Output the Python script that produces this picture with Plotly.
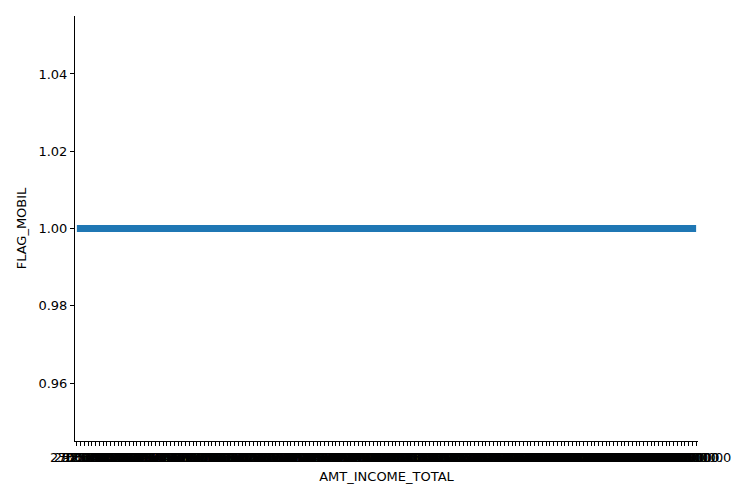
import plotly.graph_objects as go

income_values = [
    27000.0, 29250.0, 30600.0, 31500.0, 33300.0, 33750.0, 36000.0, 36900.0, 37800.0, 38250.0,
    39600.0, 40500.0, 41400.0, 42300.0, 42750.0, 43650.0, 44100.0, 45000.0, 46350.0, 47250.0,
    48150.0, 48600.0, 49500.0, 50400.0, 51750.0, 52200.0, 53100.0, 54000.0, 54900.0, 55350.0,
    56250.0, 57150.0, 57600.0, 58500.0, 59400.0, 60750.0, 61200.0, 62100.0, 63000.0, 63900.0,
    64350.0, 65250.0, 66150.0, 66600.0, 67500.0, 68400.0, 69300.0, 69750.0, 70200.0, 71100.0,
    72000.0, 72900.0, 73350.0, 74250.0, 75150.0, 75600.0, 76500.0, 77400.0, 78300.0, 78750.0,
    79200.0, 80100.0, 81000.0, 81900.0, 82350.0, 83250.0, 84150.0, 84600.0, 85500.0, 86400.0,
    87300.0, 87750.0, 88200.0, 89100.0, 90000.0, 91800.0, 92250.0, 93150.0, 94500.0, 95400.0,
    96750.0, 97650.0, 99000.0, 99900.0, 100800.0, 101250.0, 102600.0, 103500.0, 105750.0, 106650.0,
    108000.0, 109350.0, 110250.0, 111150.0, 112050.0, 112500.0, 113400.0, 114750.0, 115200.0, 116100.0,
    117000.0, 117450.0, 118350.0, 119250.0, 120600.0, 121500.0, 122400.0, 123750.0, 124200.0, 126000.0,
    126900.0, 128250.0, 130500.0, 131400.0, 133650.0, 135000.0, 136800.0, 137250.0, 139500.0, 140400.0,
    141750.0, 144000.0, 146250.0, 148500.0, 151200.0, 153000.0, 157500.0, 162000.0, 166500.0, 171000.0,
    175500.0, 180000.0, 184500.0, 189000.0, 193500.0, 198000.0, 202500.0, 207000.0, 211500.0, 216000.0,
    225000.0, 234000.0, 243000.0, 247500.0, 256500.0, 261000.0, 270000.0, 279000.0, 288000.0, 292500.0,
    297000.0, 315000.0, 337500.0, 360000.0, 382500.0, 405000.0, 450000.0, 495000.0, 540000.0, 585000.0,
    630000.0, 675000.0, 720000.0, 810000.0, 900000.0, 1575000.0,
]
flag_mobil = [1] * len(income_values)
categories = [str(v) for v in income_values]
y_ticks = [0.96, 0.98, 1.00, 1.02, 1.04]

fig = go.Figure()
fig.add_trace(go.Scatter(
    x=categories, y=flag_mobil, mode="lines",
    line=dict(color="#1f77b4", width=7), showlegend=False,
))

font = dict(family="DejaVu Sans", size=13, color="black")
fig.update_layout(
    width=750, height=500,
    margin=dict(l=67, r=60, t=8, b=67),
    paper_bgcolor="white", plot_bgcolor="white",
    font=font,
    xaxis=dict(
        type="category", automargin=False,
        tickmode="array", tickvals=categories, ticktext=categories,
        tickangle=0,
        range=[-0.5, len(categories) - 0.5],
        showgrid=False, zeroline=False,
        showline=True, linecolor="black", linewidth=1,
        ticks="outside", ticklen=4, tickcolor="black", tickwidth=1,
        tickfont=dict(family="DejaVu Sans", size=13, color="black"),
        title=dict(text="AMT_INCOME_TOTAL", font=font, standoff=8),
    ),
    yaxis=dict(
        range=[0.945, 1.055], automargin=False,
        tickmode="array", tickvals=y_ticks, ticktext=[f"{t:.2f}" for t in y_ticks],
        showgrid=False, zeroline=False,
        showline=True, linecolor="black", linewidth=1,
        ticks="outside", ticklen=4, tickcolor="black", tickwidth=1,
        tickfont=dict(family="DejaVu Sans", size=13, color="black"),
        title=dict(text="FLAG_MOBIL", font=font, standoff=8),
    ),
)

fig.write_html("out.html")
